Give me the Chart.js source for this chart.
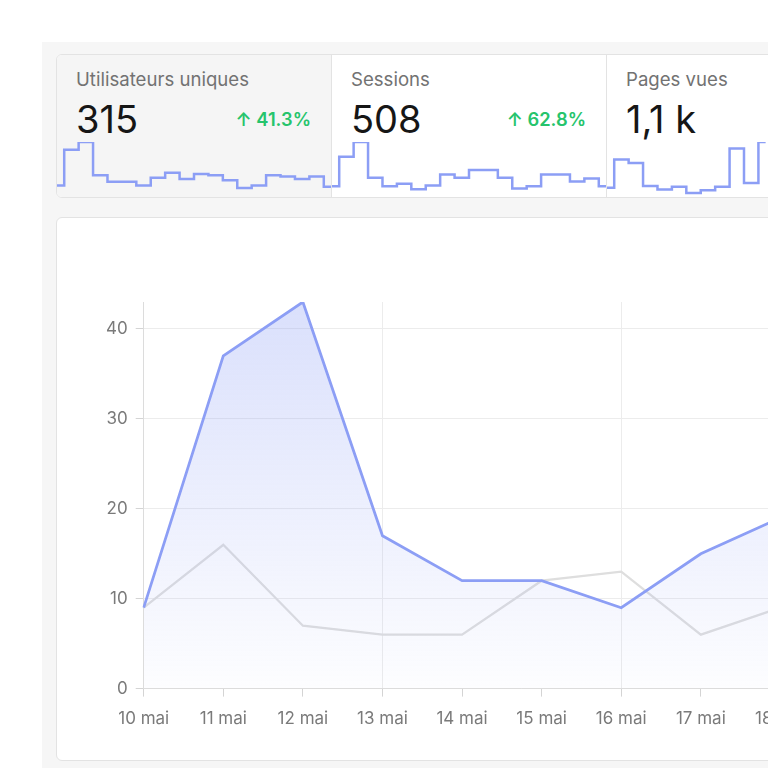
<!DOCTYPE html>
<html lang="fr">
<head>
<meta charset="utf-8">
<script src="https://cdn.jsdelivr.net/npm/chart.js@4.4.1/dist/chart.umd.min.js"></script>
<style>
  body { margin: 0; background: #fff; width: 768px; height: 768px; overflow: hidden; font-family: Inter, sans-serif; }
  .page { position: absolute; left: 42px; top: 42px; width: 1700px; height: 800px; background: #f6f6f6; }
  .kpis { position: absolute; left: 14px; top: 12px; height: 144px; display: flex; border: 1px solid #e3e3e3; border-radius: 6px; background: #fff; overflow: hidden; box-sizing: border-box; }
  .kpi { position: relative; width: 275px; height: 100%; border-right: 1px solid #e3e3e3; box-sizing: border-box; }
  .kpi.active { background: #f5f5f5; }
  .kpi-label { position: absolute; left: 19px; top: 13px; font-size: 18.6px; color: #727272; }
  .kpi-value { position: absolute; left: 19px; top: 41px; font-size: 38px; color: #161616; }
  .kpi-change { position: absolute; right: 20px; top: 53px; font-size: 18.3px; font-weight: 600; color: #26c46c; }
  .spark { position: absolute; left: 0; bottom: 0; width: 274px; height: 58px; }
  .main { position: absolute; left: 14px; top: 175px; width: 1640px; height: 544px; background: #fff; border: 1px solid #e3e3e3; border-radius: 6px; box-sizing: border-box; }
  .main canvas { position: absolute; left: 0; top: 0; }
</style>
</head>
<body>
<div class="page">
  <div class="kpis">
    <div class="kpi active">
      <div class="kpi-label">Utilisateurs uniques</div>
      <div class="kpi-value">315</div>
      <div class="kpi-change">↑ 41.3%</div>
      <div class="spark"><canvas id="spark1"></canvas></div>
    </div>
    <div class="kpi">
      <div class="kpi-label">Sessions</div>
      <div class="kpi-value">508</div>
      <div class="kpi-change">↑ 62.8%</div>
      <div class="spark"><canvas id="spark2"></canvas></div>
    </div>
    <div class="kpi">
      <div class="kpi-label">Pages vues</div>
      <div class="kpi-value">1,1 k</div>
      <div class="spark"><canvas id="spark3"></canvas></div>
    </div>
  </div>
  <div class="main"><canvas id="mainChart" width="1638" height="542"></canvas></div>
</div>

<script>
// Data
const days = ['10 mai', '11 mai', '12 mai', '13 mai', '14 mai', '15 mai', '16 mai', '17 mai', '18 mai', '19 mai',
              '20 mai', '21 mai', '22 mai', '23 mai', '24 mai', '25 mai', '26 mai', '27 mai', '28 mai', '29 mai'];
const visitors = [9, 37, 43, 17, 12, 12, 9, 15, 19, 14, 18, 17, 13, 7, 9, 17, 16, 14, 16, 8];
const previousVisitors = [9, 16, 7, 6, 6, 12, 13, 6, 9];
const sessions = [14, 52, 71, 25, 14, 17, 10, 15, 29, 25, 35, 35, 25, 11, 14, 29, 29, 20, 24, 14];
const pageViews = [27, 109, 99, 32, 22, 30, 12, 20, 30, 141, 41, 160];
const yTicks = [0, 10, 20, 30, 40];

const blue = '#8c9ef5';
const tickGray = '#7a7a7a';
const gridGray = '#ececec';

Chart.defaults.font.family = 'Inter, sans-serif';
Chart.defaults.animation = false;

function createSparkline(id, values) {
    return new Chart(document.getElementById(id), {
        type: 'line',
        data: {
            labels: days,
            datasets: [{
                data: values,
                borderColor: blue,
                borderWidth: 2.5,
                stepped: 'middle',
                pointRadius: 0,
                fill: false
            }]
        },
        options: {
            responsive: true,
            maintainAspectRatio: false,
            layout: { padding: { top: 3 } },
            plugins: { legend: { display: false }, tooltip: { enabled: false } },
            scales: {
                x: { display: false },
                y: { display: false, min: 0, max: Math.max(...values) }
            }
        }
    });
}

createSparkline('spark1', visitors);
createSparkline('spark2', sessions);
createSparkline('spark3', pageViews);

// Main chart
new Chart(document.getElementById('mainChart'), {
    type: 'line',
    data: {
        labels: days,
        datasets: [{
            label: 'Utilisateurs uniques',
            data: visitors,
            borderColor: blue,
            borderWidth: 2.75,
            pointRadius: 0,
            tension: 0,
            fill: 'origin',
            backgroundColor: function(context) {
                const area = context.chart.chartArea;
                if (!area) return 'rgba(140, 158, 245, 0.2)';
                const g = context.chart.ctx.createLinearGradient(0, area.top, 0, area.bottom);
                g.addColorStop(0, 'rgba(140, 158, 245, 0.32)');
                g.addColorStop(1, 'rgba(140, 158, 245, 0.02)');
                return g;
            }
        }, {
            label: 'Période précédente',
            data: previousVisitors,
            borderColor: '#dedede',
            borderWidth: 2.25,
            pointRadius: 0,
            tension: 0,
            fill: false
        }]
    },
    options: {
        responsive: false,
        layout: { padding: { top: 84, left: 41, bottom: 19, right: 0 } },
        plugins: { legend: { display: false }, tooltip: { enabled: false } },
        scales: {
            x: {
                offset: false,
                grid: {
                    color: ctx => ctx.index % 3 === 0 ? gridGray : 'rgba(0,0,0,0)',
                    tickColor: '#d4d4d4',
                    tickLength: 8
                },
                border: { color: '#dcdcdc' },
                ticks: { color: tickGray, font: { size: 17 }, padding: 12, maxRotation: 0, autoSkip: false }
            },
            y: {
                min: 0,
                max: Math.max(...visitors, ...previousVisitors),
                afterBuildTicks: axis => { axis.ticks = yTicks.map(v => ({ value: v })); },
                grid: { color: gridGray, tickColor: '#d4d4d4', tickLength: 8 },
                border: { color: '#dcdcdc' },
                ticks: { color: tickGray, font: { size: 17 }, padding: 8 }
            }
        }
    }
});
</script>
</body>
</html>
